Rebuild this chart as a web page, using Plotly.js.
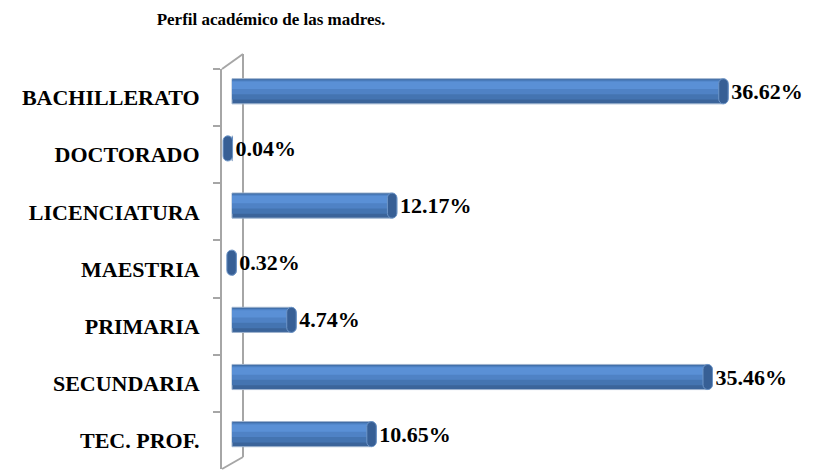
<!DOCTYPE html>
<html>
<head>
<meta charset="utf-8">
<script src="https://cdn.plot.ly/plotly-3.0.1.min.js"></script>
<style>html,body{margin:0;padding:0;background:#fff;}#chart{width:813px;height:470px;}</style>
</head>
<body>
<div id="chart"></div>
<script>
// ---- data ----
const categories = ["BACHILLERATO", "DOCTORADO", "LICENCIATURA", "MAESTRIA", "PRIMARIA", "SECUNDARIA", "TEC. PROF."];
const values = [36.62, 0.04, 12.17, 0.32, 4.74, 35.46, 10.65];
const chartTitle = "Perfil académico de las madres.";

// ---- styling / geometry ----
const FONT = "Liberation Serif, Times New Roman, serif";
const W = 813, H = 470;
const margin = {l: 222, r: 12, t: 69, b: 1};
const pxPerUnit = 13.55;          // horizontal scale
const zeroPx = 232;               // pixel of value 0
const xMin = -(zeroPx - margin.l) / pxPerUnit;
const plotW = W - margin.l - margin.r;
const plotH = H - margin.t - margin.b;
const xMax = xMin + plotW / pxPerUnit;

const capLen = 0.7;               // length of the end cap in value units
const thick = 0.44, off = -0.33;  // bar thickness / offset in category units

function layer(width, offset, color, extra) {
  return Object.assign({
    type: "bar", orientation: "h", y: categories, x: values,
    width: width, offset: offset,
    marker: {color: color, cornerradius: 6, line: {width: 0}},
    hoverinfo: "skip", showlegend: false
  }, extra || {});
}

const traces = [
  layer(thick, off, "#3B649A", {
    marker: {color: "#3B649A", cornerradius: 6, line: {width: 1, color: "#9FB4CF"}},
    text: values.map(v => v.toFixed(2) + "%"),
    textposition: "outside", constraintext: "none", cliponaxis: false,
    textfont: {family: FONT, size: 22, color: "#000", weight: 700},
    outsidetextfont: {family: FONT, size: 22, color: "#000", weight: 700}
  }),
  layer(0.35, off + 0.015, "#4474B1"),
  layer(0.24, off + 0.03, "#4F82C5"),
  layer(0.13, off + 0.05, "#5A90D6"),
  {
    type: "bar", orientation: "h", y: categories,
    x: values.map(() => capLen), base: values.map(v => v - capLen),
    width: thick, offset: off,
    marker: {color: "#375F95", cornerradius: "50%", line: {width: 1, color: "#6E96C8"}},
    hoverinfo: "skip", showlegend: false
  }
];

// 3D frame (back wall edges)
const px2x = p => (p - margin.l) / plotW;       // paper x from pixel
const px2y = p => (H - margin.b - p) / plotH;   // paper y from pixel
const frameColor = "#A6A6A6";
const shapes = [
  {type: "line", xref: "paper", yref: "paper", x0: px2x(243), x1: px2x(243), y0: px2y(457), y1: px2y(54), line: {color: frameColor, width: 2}, layer: "below"},
  {type: "line", xref: "paper", yref: "paper", x0: px2x(222), x1: px2x(243), y0: px2y(69), y1: px2y(54), line: {color: frameColor, width: 2}, layer: "below"},
  {type: "line", xref: "paper", yref: "paper", x0: px2x(222), x1: px2x(243), y0: px2y(469), y1: px2y(457), line: {color: frameColor, width: 2}, layer: "below"}
];

const layout = {
  width: W, height: H, margin: margin,
  paper_bgcolor: "#fff", plot_bgcolor: "rgba(0,0,0,0)",
  barmode: "overlay",
  title: {text: chartTitle, x: 271 / W, xref: "container", xanchor: "center", y: 1 - 19 / H, yref: "container", yanchor: "middle",
          font: {family: FONT, size: 17, color: "#000", weight: 700}},
  xaxis: {range: [xMin, xMax], visible: false, fixedrange: true},
  yaxis: {
    type: "category", categoryorder: "array", categoryarray: categories,
    range: [categories.length - 0.5, -0.5],
    showline: true, linecolor: frameColor, linewidth: 2,
    ticks: "outside", ticklen: 7, tickwidth: 2, tickcolor: frameColor, tickson: "boundaries",
    showgrid: false, zeroline: false, ticklabelstandoff: 16,
    tickfont: {family: FONT, size: 22, color: "#000", weight: 700}
  },
  shapes: shapes,
  showlegend: false
};

Plotly.newPlot("chart", traces, layout, {displayModeBar: false, staticPlot: true});
</script>
</body>
</html>
